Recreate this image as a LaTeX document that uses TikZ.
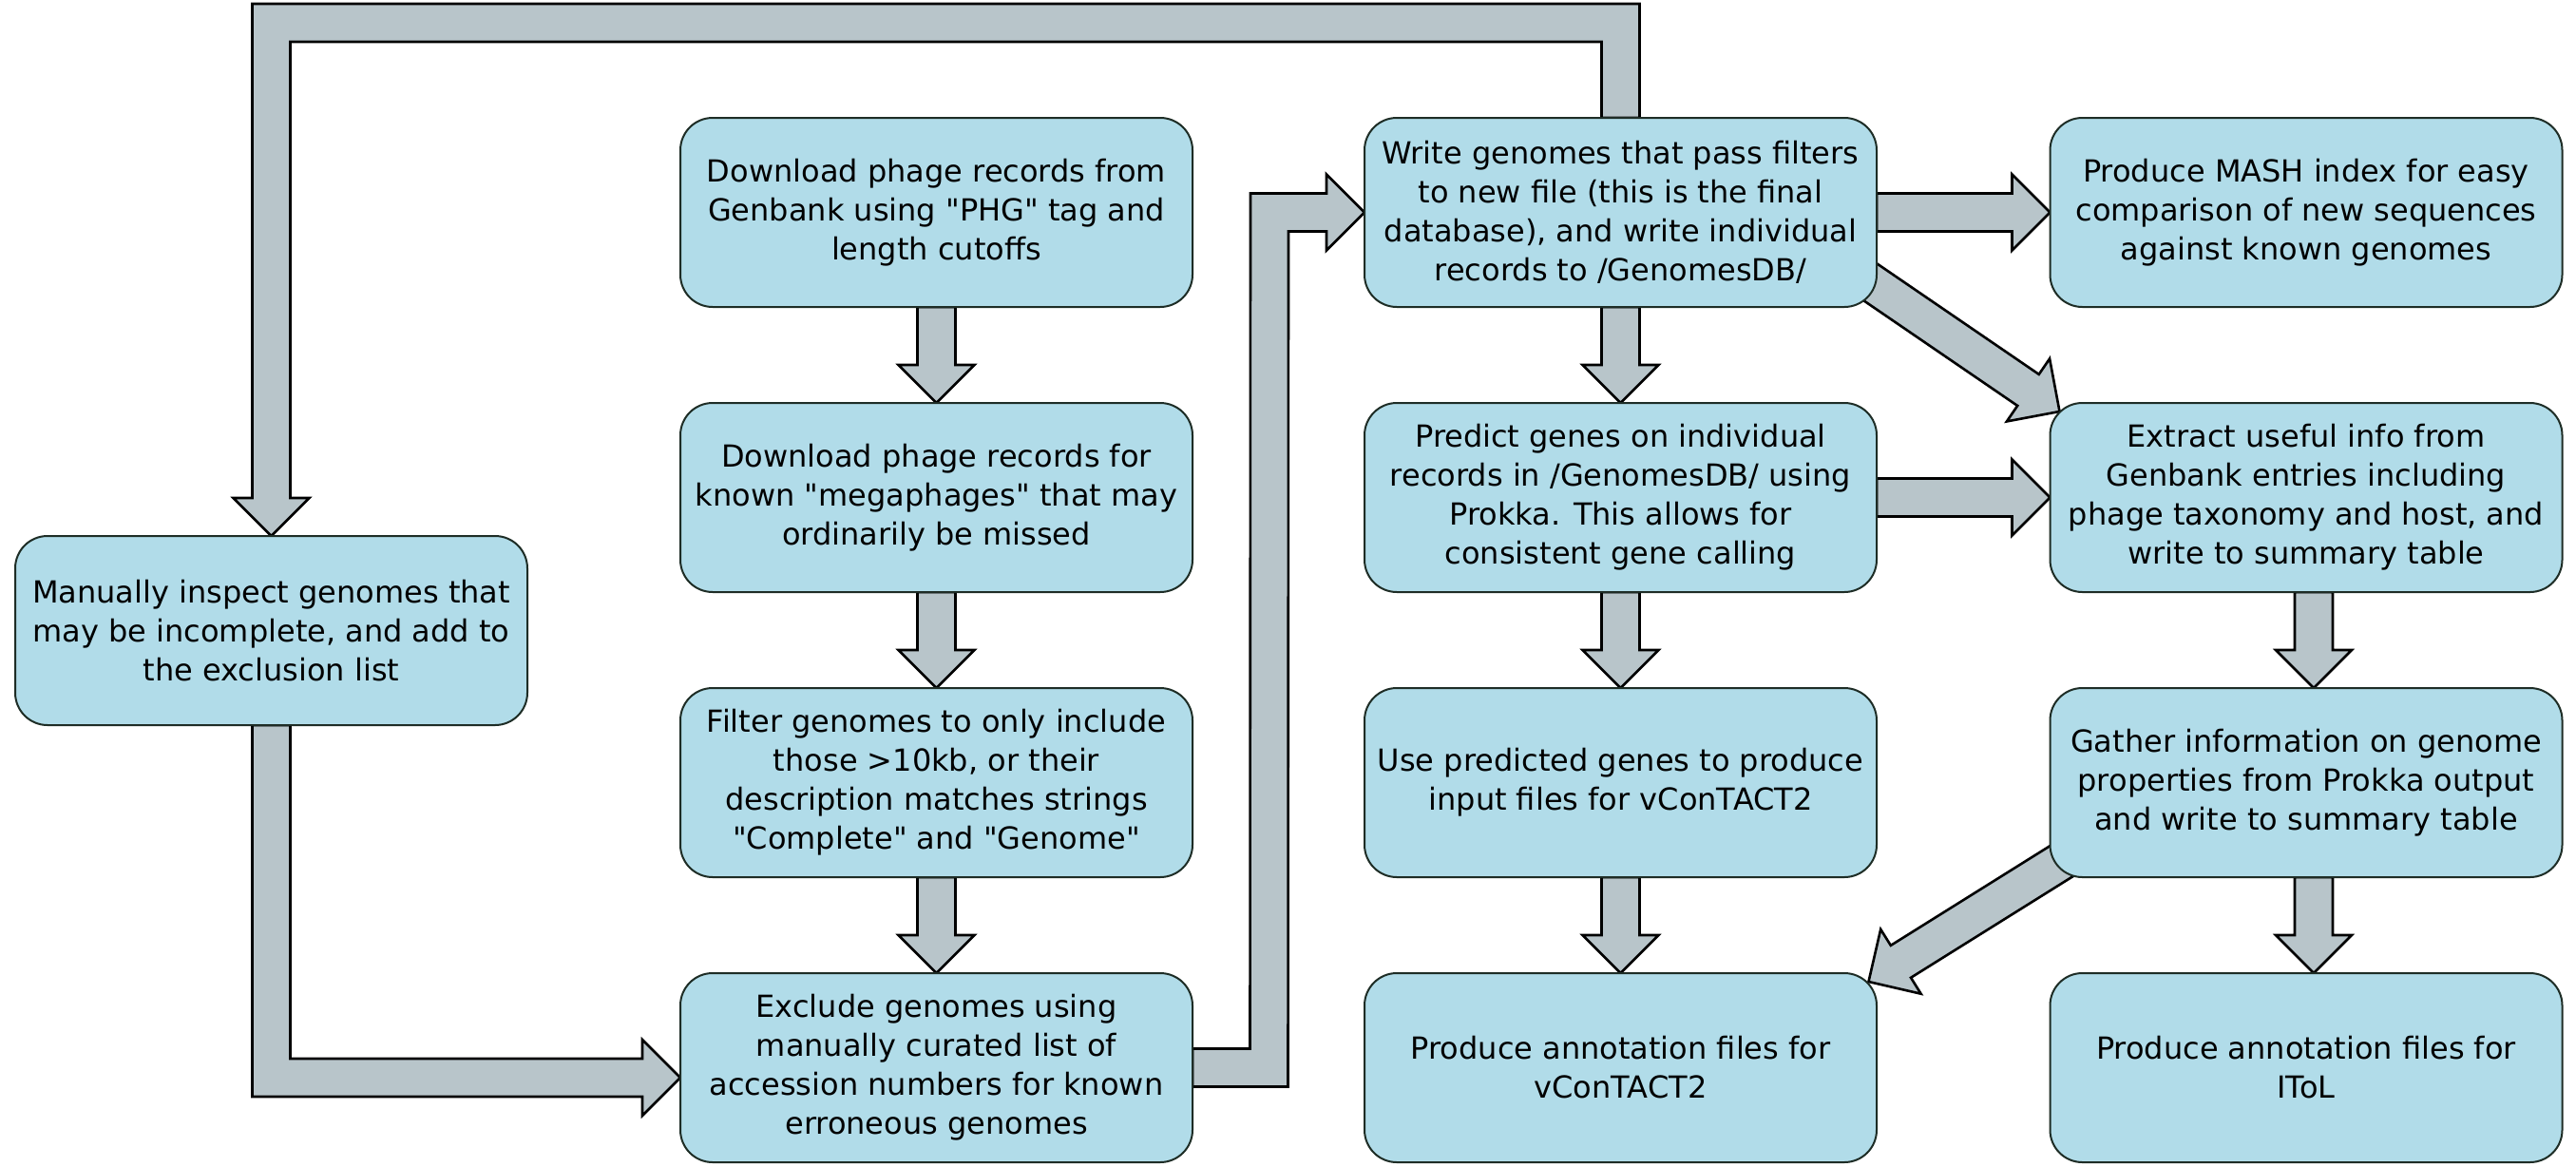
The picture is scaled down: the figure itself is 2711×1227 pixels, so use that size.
\documentclass[tikz,border=0pt]{standalone}
\usepackage{fontspec}
\setmainfont{DejaVu Sans}[Ligatures=TeXOff]
\usetikzlibrary{calc,backgrounds}
\definecolor{boxfill}{RGB}{177,220,233}
\definecolor{boxline}{RGB}{30,45,38}
\definecolor{arrfill}{RGB}{184,197,202}
\tikzset{
  box/.style={draw=boxline, line width=1pt, fill=boxfill, rounded corners=17pt,
    minimum width=269.5pt, minimum height=99.5pt, inner sep=0pt, outer sep=0pt,
    align=center, font=\fontsize{16}{20.5}\selectfont, text=black},
  blockarr/.style={draw=black, line width=1.3pt, fill=arrfill, line join=miter}
}
\newcommand\blockarrow[2]{%
  \draw[blockarr] ($(#1)!10pt!90:(#2)$)
    -- ($($(#2)!20pt!(#1)$)!10pt!-90:(#1)$)
    -- ($($(#2)!20pt!(#1)$)!20pt!-90:(#1)$)
    -- (#2)
    -- ($($(#2)!20pt!(#1)$)!20pt!90:(#1)$)
    -- ($($(#2)!20pt!(#1)$)!10pt!90:(#1)$)
    -- ($(#1)!10pt!-90:(#2)$) -- cycle;}
\begin{document}
\begin{tikzpicture}[x=0.5pt,y=-0.5pt]
\useasboundingbox (0,0) rectangle (2711,1227);
% boxes
\node[box] (inspect) at (285.5,663.5) {Manually inspect genomes that\\may be incomplete, and add to\\the exclusion list};
\node[box] (dl) at (985.5,223.5) {Download phage records from\\Genbank using "PHG" tag and\\length cutoffs};
\node[box] (mega) at (985.5,523.5) {Download phage records for\\known "megaphages" that may\\ordinarily be missed};
\node[box] (filter) at (985.5,823.5) {Filter genomes to only include\\those >10kb, or their\\description matches strings\\"Complete" and "Genome"};
\node[box] (exclude) at (985.5,1123.5) {Exclude genomes using\\manually curated list of\\accession numbers for known\\erroneous genomes};
\node[box] (write) at (1705.5,223.5) {Write genomes that pass filters\\to new file (this is the final\\database), and write individual\\records to /GenomesDB/};
\node[box] (predict) at (1705.5,523.5) {Predict genes on individual\\records in /GenomesDB/ using\\Prokka. This allows for\\consistent gene calling};
\node[box] (usepred) at (1705.5,823.5) {Use predicted genes to produce\\input files for vConTACT2};
\node[box] (anno) at (1705.5,1123.5) {Produce annotation files for\\vConTACT2};
\node[box] (mash) at (2427,223.5) {Produce MASH index for easy\\comparison of new sequences\\against known genomes};
\node[box] (extract) at (2427,523.5) {Extract useful info from\\Genbank entries including\\phage taxonomy and host, and\\write to summary table};
\node[box] (gather) at (2427,823.5) {Gather information on genome\\properties from Prokka output\\and write to summary table};
\node[box] (itol) at (2427,1123.5) {Produce annotation files for\\IToL};
% arrow end points
\coordinate (d1a) at ($(write.south east)+(-13,-30.5)$);
\coordinate (d1b) at ($(extract.north west)+(10,9)$);
\coordinate (d2a) at ($(gather.south west)+(17,-20)$);
\coordinate (d2b) at ($(anno.north east)+(-8.5,9)$);
\coordinate (c4a) at ($(extract.south)+(8,0)$);
\coordinate (c4b) at ($(gather.north)+(8,0)$);
\coordinate (c4c) at ($(gather.south)+(8,0)$);
\coordinate (c4d) at ($(itol.north)+(8,0)$);
\begin{scope}[on background layer]
% straight arrows
\blockarrow{dl.south}{mega.north}
\blockarrow{mega.south}{filter.north}
\blockarrow{filter.south}{exclude.north}
\blockarrow{write.south}{predict.north}
\blockarrow{predict.south}{usepred.north}
\blockarrow{usepred.south}{anno.north}
\blockarrow{c4a}{c4b}
\blockarrow{c4c}{c4d}
\blockarrow{write.east}{mash.west}
\blockarrow{predict.east}{extract.west}
\blockarrow{d1a}{d1b}
\blockarrow{d2a}{d2b}
% loop: write -> inspect
\draw[blockarr] ($(write.north)+(20,0)$) -- ($(write.north)+(20,-120)$)
  -- ($(inspect.north)+(-20,-560)$) -- ($(inspect.north)+(-20,-40)$)
  -- ($(inspect.north)+(-40,-40)$) -- (inspect.north)
  -- ($(inspect.north)+(40,-40)$) -- ($(inspect.north)+(20,-40)$)
  -- ($(inspect.north)+(20,-520)$) -- ($(write.north)+(-20,-80)$)
  -- ($(write.north)+(-20,0)$) -- cycle;
% loop: inspect -> exclude
\coordinate (extip) at ($(exclude.west)+(0,10.5)$);
\draw[blockarr] ($(inspect.south)+(-20,0)$) -- ($(extip)+(-450.5,20)$)
  -- ($(extip)+(-40,20)$) -- ($(extip)+(-40,40)$) -- (extip)
  -- ($(extip)+(-40,-40)$) -- ($(extip)+(-40,-20)$)
  -- ($(extip)+(-410.5,-20)$) -- ($(inspect.south)+(20,0)$) -- cycle;
% loop: exclude -> write
\draw[blockarr] ($(exclude.east)+(0,-20)$) -- ($(exclude.east)+(60.5,-20)$)
  -- ($(write.west)+(-120,-20)$) -- ($(write.west)+(-40,-20)$)
  -- ($(write.west)+(-40,-40)$) -- (write.west)
  -- ($(write.west)+(-40,40)$) -- ($(write.west)+(-40,20)$)
  -- ($(write.west)+(-80,20)$) -- ($(exclude.east)+(100.5,20)$)
  -- ($(exclude.east)+(0,20)$) -- cycle;
\end{scope}
\end{tikzpicture}
\end{document}
